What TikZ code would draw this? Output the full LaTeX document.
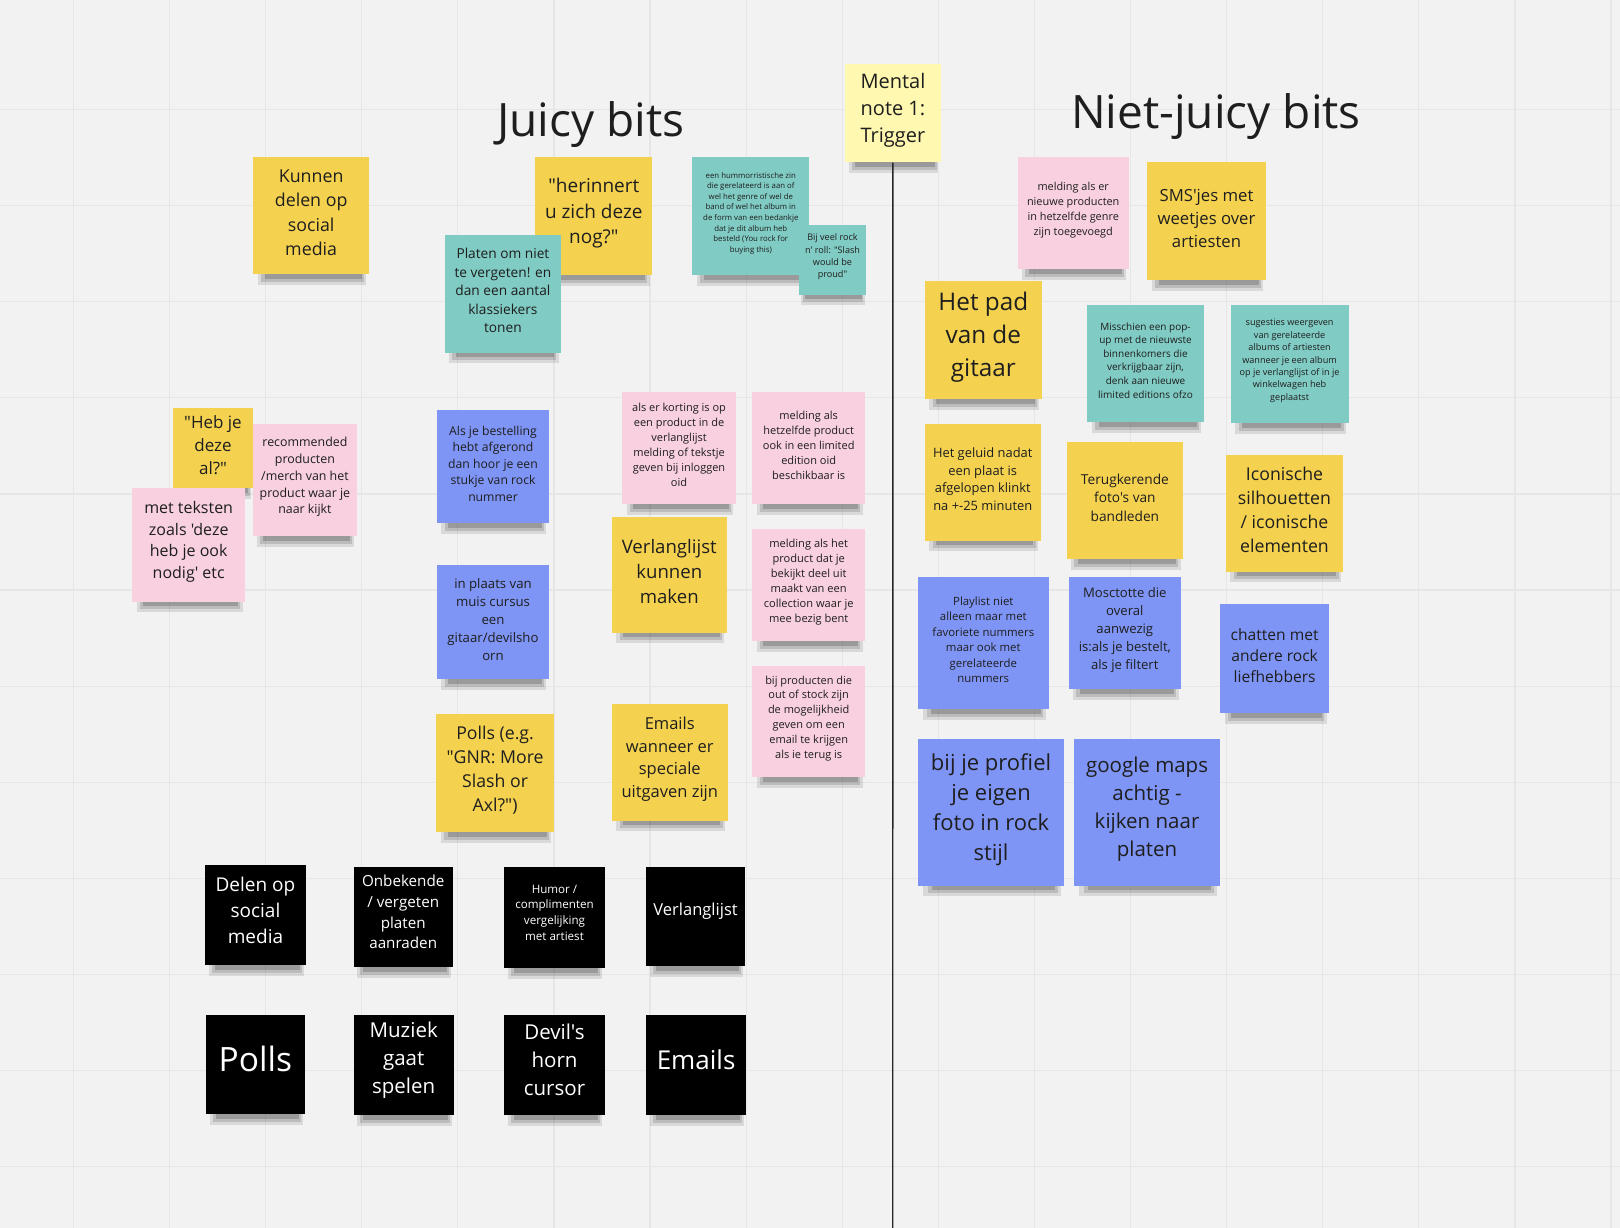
\documentclass[tikz,border=0pt]{standalone}
\usepackage{fontspec}
\setmainfont{Open Sans}[Ligatures=TeXOff]
\definecolor{boardbg}{HTML}{F2F2F2}
\definecolor{gridgray}{HTML}{E6E6E6}
\definecolor{noteyellow}{HTML}{F4D250}
\definecolor{notepink}{HTML}{F8D0DF}
\definecolor{noteteal}{HTML}{80CBC3}
\definecolor{noteblue}{HTML}{7F95F5}
\definecolor{notepale}{HTML}{FFF8B0}
\definecolor{inkdark}{HTML}{1E1E1E}
\tikzset{
  notelift/.store in=\notelift, notelift=3,
  note/.style={anchor=north west,inner sep=0pt},
  notetext/.style={inner sep=0pt,align=center,text=inkdark},
  yellownote/.style={fill=noteyellow}, pinknote/.style={fill=notepink},
  tealnote/.style={fill=noteteal}, bluenote/.style={fill=noteblue},
  palenote/.style={fill=notepale}, blacknote/.style={fill=black,text=white,notelift=5},
  noteshadow/.style={fill=black,opacity=.1},
  gridline/.style={draw=gridgray,line width=1.2pt},
  boardtitle/.style={font=\fontsize{46}{56}\selectfont,text=inkdark}
}
% name, colour, x, y, width, height, font size, line pitch, text
\newcommand{\sticky}[9]{%
  \fill[noteshadow] ({#3+0.04*#5},{#4+#6-4}) rectangle ({#3+0.98*#5},{#4+#6+11});
  \fill[noteshadow,opacity=.13] ({#3+0.07*#5},{#4+#6-2}) rectangle ({#3+0.96*#5},{#4+#6+8});
  \fill[noteshadow,opacity=.18] ({#3+0.1*#5},{#4+#6}) rectangle ({#3+0.94*#5},{#4+#6+5});
  \node[note,#2,minimum width=#5,minimum height=#6] (#1) at (#3,#4) {};
  \node[notetext,#2,fill=none,yshift=\notelift pt,font=\fontsize{#7}{#8}\selectfont] (#1-text) at (#1.center) {#9};}

\begin{document}
\begin{tikzpicture}[x=1pt,y=-1pt]
\fill[boardbg] (0,0) rectangle (1620,1228); \useasboundingbox (0,0) rectangle (1620,1228);
\foreach \gx in {0,...,16} \draw[gridline] ({73.4+96.1*\gx},0) -- ++(0,1228);
\foreach \gy in {0,...,11} \draw[gridline] (0,{109.5+96.1*\gy}) -- ++(1620,0);

\node[boardtitle] (juicy) at (591,125) {Juicy bits};
\node[boardtitle] (notjuicy) at (1216,116.6) {Niet-juicy bits};
\sticky{trigger}{palenote}{845.2}{64.1}{95.1}{98.2}{20}{27.4}{Mental\\note 1:\\Trigger}
\coordinate (boardend) at (892.7,1228); \draw[line width=1.4pt,black!85] (trigger) -- (boardend);

% juicy side
\sticky{social}{yellownote}{253.1}{157.0}{115.7}{116.8}{17.8}{24.3}{Kunnen\\delen op\\social\\media}
\sticky{herinnert}{yellownote}{535.2}{157.0}{116.8}{117.8}{19}{25.8}{"herinnert\\u zich deze\\nog?"}
\sticky{klassiekers}{tealnote}{444.3}{234.5}{116.8}{117.8}{13.7}{18.6}{Platen om niet\\te vergeten! en\\dan een aantal\\klassiekers\\tonen}
\sticky{bedankje}{tealnote}{692.2}{157.0}{116.8}{117.8}{7.8}{10.6}{een hummorristische zin\\die gerelateerd is aan of\\wel het genre of wel de\\band of wel het album in\\de form van een bedankje\\dat je dit album heb\\besteld (You rock for\\buying this)}
\sticky{slash}{tealnote}{798.7}{225.2}{67.2}{69.2}{9.1}{12.4}{Bij veel rock\\n' roll: "Slash\\would be\\proud"}
\sticky{hebje}{yellownote}{172.5}{408.1}{80.6}{79.6}{17}{23.2}{"Heb je\\deze\\al?"}
\sticky{recommended}{pinknote}{253.1}{423.6}{103.3}{112.6}{12.4}{16.8}{recommended\\producten\\/merch van het\\product waar je\\naar kijkt}
\sticky{nodig}{pinknote}{132.2}{487.7}{112.6}{113.7}{16}{21.7}{met teksten\\zoals 'deze\\heb je ook\\nodig' etc}
\sticky{bestelling}{bluenote}{437.0}{410.2}{111.6}{112.6}{12.2}{16.5}{Als je bestelling\\hebt afgerond\\dan hoor je een\\stukje van rock\\nummer}
\sticky{muiscursus}{bluenote}{437.0}{565.2}{111.6}{113.7}{13.2}{17.9}{in plaats van\\muis cursus\\een\\gitaar/devilsho\\orn}
\sticky{pollsnote}{yellownote}{436.0}{713.9}{117.8}{117.8}{17.7}{24.1}{Polls (e.g.\\"GNR: More\\Slash or\\Axl?")}
\sticky{korting}{pinknote}{622.0}{391.6}{113.7}{112.6}{11}{14.9}{als er korting is op\\een product in de\\verlanglijst\\melding of tekstje\\geven bij inloggen\\oid}
\sticky{limited}{pinknote}{752.2}{391.6}{112.6}{112.6}{11}{15}{melding als\\hetzelfde product\\ook in een limited\\edition oid\\beschikbaar is}
\sticky{wishlist}{yellownote}{611.7}{516.6}{114.7}{115.7}{18.6}{25.3}{Verlanglijst\\kunnen\\maken}
\sticky{collection}{pinknote}{752.2}{529.0}{112.6}{111.6}{11.1}{15.1}{melding als het\\product dat je\\bekijkt deel uit\\maakt van een\\collection waar je\\mee bezig bent}
\sticky{uitgaven}{yellownote}{611.7}{703.6}{115.7}{116.8}{16.5}{22.4}{Emails\\wanneer er\\speciale\\uitgaven zijn}
\sticky{stock}{pinknote}{752.2}{665.4}{112.6}{111.6}{11}{14.9}{bij producten die\\out of stock zijn\\de mogelijkheid\\geven om een\\email te krijgen\\als ie terug is}

% black summary notes
\sticky{delen}{blacknote}{204.6}{864.8}{101.3}{100.2}{19}{25.8}{Delen op\\social\\media}
\sticky{aanraden}{blacknote}{353.4}{866.8}{99.2}{100.2}{15.2}{20.7}{Onbekende\\/ vergeten\\platen\\aanraden}
\sticky{humor}{blacknote}{504.2}{866.8}{100.2}{101.3}{11.6}{15.8}{Humor /\\complimenten\\vergelijking\\met artiest}
\sticky{verlanglijst}{blacknote}{645.8}{866.8}{99.2}{99.2}{16.5}{22}{Verlanglijst}
\sticky{polls}{blacknote}{205.6}{1014.6}{99.2}{99.2}{33.5}{45}{Polls}
\sticky{muziek}{blacknote}{353.4}{1014.6}{100.2}{100.2}{20.5}{27.9}{Muziek\\gaat\\spelen}
\sticky{horn}{blacknote}{504.2}{1014.6}{100.2}{100.2}{20.5}{27.9}{Devil's\\horn\\cursor}
\sticky{emails}{blacknote}{645.8}{1014.6}{100.2}{100.2}{26}{35}{Emails}

% niet-juicy side
\sticky{genre}{pinknote}{1017.7}{157.0}{110.6}{111.6}{10.9}{14.8}{melding als er\\nieuwe producten\\in hetzelfde genre\\zijn toegevoegd}
\sticky{sms}{yellownote}{1146.9}{162.2}{118.8}{117.8}{16.7}{22.7}{SMS'jes met\\weetjes over\\artiesten}
\sticky{gitaar}{yellownote}{924.7}{281.0}{116.8}{117.8}{24.3}{33}{Het pad\\van de\\gitaar}
\sticky{popup}{tealnote}{1086.9}{304.8}{116.8}{116.8}{10}{13.6}{Misschien een pop-\\up met de nieuwste\\binnenkomers die\\verkrijgbaar zijn,\\denk aan nieuwe\\limited editions ofzo}
\sticky{sugesties}{tealnote}{1230.5}{304.8}{117.8}{117.8}{9.1}{12.4}{sugesties weergeven\\van gerelateerde\\albums of artiesten\\wanneer je een album\\op je verlanglijst of in je\\winkelwagen heb\\geplaatst}
\sticky{geluid}{yellownote}{924.7}{423.6}{115.7}{116.8}{12.9}{17.6}{Het geluid nadat\\een plaat is\\afgelopen klinkt\\na +-25 minuten}
\sticky{bandleden}{yellownote}{1066.3}{442.2}{116.8}{116.8}{13.7}{18.6}{Terugkerende\\foto's van\\bandleden}
\sticky{iconisch}{yellownote}{1225.4}{454.6}{117.8}{116.8}{17.7}{24.1}{Iconische\\silhouetten\\/ iconische\\elementen}
\sticky{playlist}{bluenote}{917.5}{576.5}{131.2}{132.2}{11.4}{15.5}{Playlist niet\\alleen maar met\\favoriete nummers\\maar ook met\\gerelateerde\\nummers}
\sticky{mascotte}{bluenote}{1068.3}{576.5}{112.6}{112.6}{13.1}{17.9}{Mosctotte die\\overal\\aanwezig\\is:als je bestelt,\\als je filtert}
\sticky{chatten}{bluenote}{1220.2}{603.4}{108.5}{109.5}{15.6}{21.2}{chatten met\\andere rock\\liefhebbers}
\sticky{profiel}{bluenote}{917.5}{738.7}{146.7}{146.7}{22}{30}{bij je profiel\\je eigen\\foto in rock\\stijl}
\sticky{maps}{bluenote}{1073.5}{738.7}{146.7}{146.7}{20.5}{27.9}{google maps\\achtig -\\kijken naar\\platen}
\end{tikzpicture}
\end{document}
